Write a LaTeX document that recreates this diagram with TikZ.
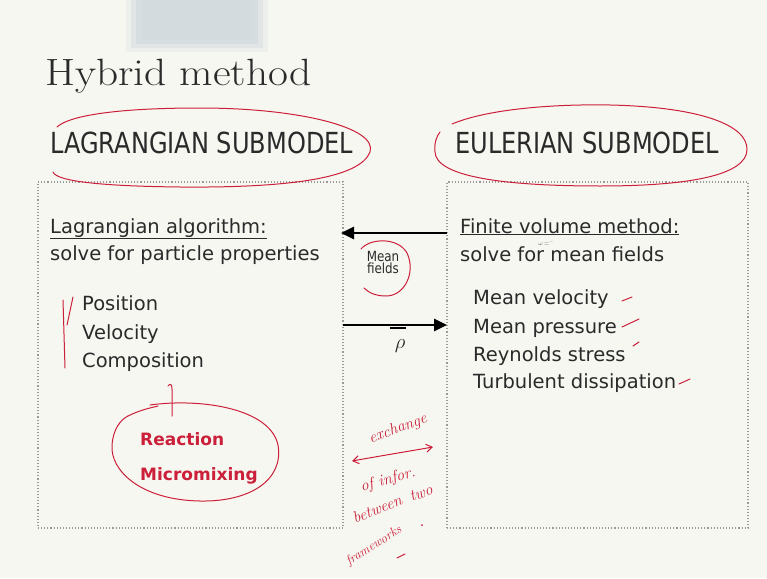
\documentclass[tikz,border=0pt]{standalone}
\usepackage{fontspec}
\usetikzlibrary{arrows.meta}
\newfontfamily\bodyfont{DejaVu Sans}
\newfontfamily\headfont[FakeStretch=0.83]{DejaVu Sans}
\newfontfamily\smallfont[FakeStretch=0.85]{DejaVu Sans}
\definecolor{bg}{HTML}{F6F7F1}
\definecolor{ink}{HTML}{2A2A2A}
\definecolor{pen}{HTML}{CC1F3A}
\definecolor{dots}{HTML}{9A9A9A}
\definecolor{blur}{HTML}{D3DBDF}
\begin{document}
\begin{tikzpicture}[x=1pt,y=-1pt,
 txt/.style={anchor=base west, inner sep=0pt, text=ink, font=\bodyfont\fontsize{19.5}{22}\selectfont},
 head/.style={anchor=base west, inner sep=0pt, text=ink, font=\headfont\fontsize{29}{32}\selectfont},
 redtxt/.style={anchor=base west, inner sep=0pt, text=pen, font=\bodyfont\bfseries\fontsize{17}{20}\selectfont},
 hand/.style={draw=pen, line width=1pt, line cap=round, line join=round},
 handtxt/.style={text=pen, inner sep=0pt, font=\itshape\fontsize{16}{17}\selectfont},
 panel/.style={draw=dots, line width=1.1pt, dotted, inner sep=0pt},
 flow/.style={draw=black, line width=2.8pt, -{Triangle[length=13pt,width=12pt]}}]
\useasboundingbox (0,0) rectangle (767,578);
\fill[bg] (0,0) rectangle (767,578);
% blurred patch at top
\fill[blur, opacity=0.25] (126,0) rectangle (268,52);
\fill[blur, opacity=0.45] (131,0) rectangle (263,48);
\fill[blur, opacity=0.8] (136,0) rectangle (258,44);
\fill[blur] (142,0) rectangle (252,40);

% title
\node[anchor=base west, inner sep=0pt, text=ink] (title) at (45,85)
  {\fontsize{38}{40}\selectfont\scalebox{1.14}[1]{Hybrid method}};

% headers
\node[head] (lh) at (50,153) {LAGRANGIAN SUBMODEL};
\node[head] (eh) at (455,153) {EULERIAN SUBMODEL};

% panels
\node[panel, minimum width=305pt, minimum height=346pt] (L) at (190.5,355) {};
\node[panel, minimum width=301pt, minimum height=346pt] (R) at (597.5,355) {};

% left panel text
\node[txt] (la) at (50,233) {\underline{Lagrangian algorithm:}};
\node[txt] (ls) at (50,260) {solve for particle properties};
\node[txt] (p1) at (82,310) {Position};
\node[txt] (p2) at (82,339) {Velocity};
\node[txt] (p3) at (82,367) {Composition};
\node[redtxt] (r1) at (140,445) {Reaction};
\node[redtxt] (r2) at (140,480) {Micromixing};

% right panel text
\node[txt] (fa) at (460,233) {\underline{Finite volume method:}};
\node[txt] (fs) at (460,261) {solve for mean fields};
\node[inner sep=0pt, text=ink!70, font=\fontsize{6}{7}\selectfont] (om) at (546,244) {$\omega\!=\!\bar{\;}\,$};
\node[txt] (q1) at (473,304) {Mean velocity};
\node[txt] (q2) at (473,333) {Mean pressure};
\node[txt] (q3) at (473,361) {Reynolds stress};
\node[txt] (q4) at (473,388) {Turbulent dissipation};

% middle: arrows and labels
\coordinate (t1) at (447,233);
\coordinate (t2) at (341,233);
\coordinate (b1) at (343,325);
\coordinate (b2) at (447,325);
\draw[flow] (t1) -- (t2);
\draw[flow] (b1) -- (b2);
\draw[black, line width=1.6pt] (390,328) -- (406,328);
\node[inner sep=0pt, text=ink, font=\fontsize{14}{15}\selectfont, align=center] (mf) at (383,262)
  {\smallfont Mean\\[-3pt]\smallfont fields};
\node[inner sep=0pt, text=ink, font=\fontsize{22}{24}\selectfont] (rho) at (400,346) {$\rho$};

% red annotations: header ovals
\draw[hand] (53,172) .. controls (56,180) and (90,186) .. (180,187)
  .. controls (290,188) and (360,178) .. (370,152)
  .. controls (378,128) and (300,108) .. (200,108)
  .. controls (120,108) and (70,115) .. (57,127);
\draw[hand] (452,124) .. controls (490,108) and (560,104) .. (610,105)
  .. controls (700,107) and (748,125) .. (747,150)
  .. controls (746,175) and (690,186) .. (600,186)
  .. controls (500,186) and (436,176) .. (435,152)
  .. controls (434,142) and (437,136) .. (440,132);

% mean fields circle
\draw[hand] (361,249) .. controls (370,238) and (398,237) .. (407,253)
  .. controls (416,272) and (405,296) .. (386,296)
  .. controls (376,296) and (369,293) .. (364,288);

% left list marks
\draw[hand] (63,300) -- (65,368);
\draw[hand] (73,297) -- (67,325);
\draw[hand] (168,386) .. controls (170,383) and (172,384) .. (172,389) -- (172,416);

% reaction oval
\draw[hand] (128,416) .. controls (140,410) and (150,408) .. (158,406);
\draw[hand] (150,405) .. controls (200,398) and (270,408) .. (278,445)
  .. controls (284,480) and (250,502) .. (200,501)
  .. controls (140,500) and (110,470) .. (112,445)
  .. controls (113,430) and (120,420) .. (128,416);

% right list ticks
\draw[hand] (622,301) -- (632,297);
\draw[hand] (622,327) -- (639,319);
\draw[hand] (633,346) -- (639,342);
\draw[hand] (679,384) -- (690,379);

% handwritten note
\node[handtxt, rotate=20] (ex) at (398,429) {exchange};
\coordinate (h1) at (352,461);
\coordinate (h2) at (433,447);
\draw[hand, {Straight Barb[length=6pt,width=8pt]}-{Straight Barb[length=6pt,width=8pt]}] (h1) .. controls (380,456) and (410,451) .. (h2);
\node[handtxt, rotate=15] (of) at (388,480) {of infor.};
\node[handtxt, rotate=22] (bt) at (377,509) {between};
\node[handtxt, rotate=22] (tw) at (421,493) {two};
\node[handtxt, font=\itshape\fontsize{13}{14}\selectfont, rotate=32] (fw) at (374,546) {frameworks};
\draw[hand] (397,558) -- (405,554);
\fill[pen] (422,525) circle (1pt);
\end{tikzpicture}
\end{document}
